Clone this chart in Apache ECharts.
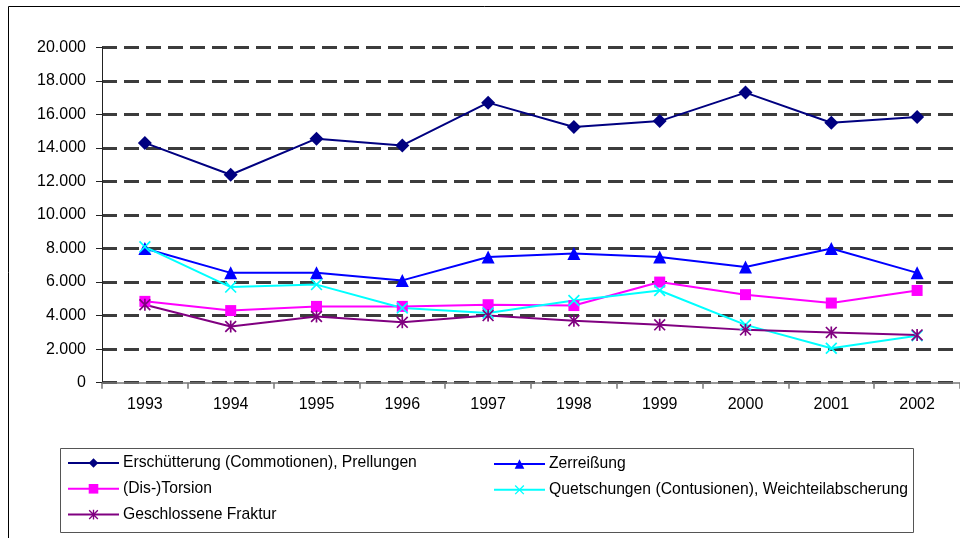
<!DOCTYPE html>
<html>
<head>
<meta charset="utf-8">
<script src="https://cdn.jsdelivr.net/npm/echarts@6/dist/echarts.min.js"></script>
<style>html,body{margin:0;padding:0;background:#fff}#c{width:960px;height:538px}</style>
</head>
<body>
<div id="c"></div>
<script>
const years = ['1993','1994','1995','1996','1997','1998','1999','2000','2001','2002'];
const erschuetterung = [14300, 12400, 14550, 14150, 16700, 15250, 15600, 17300, 15500, 15850];
const zerreissung = [8000, 6550, 6550, 6100, 7500, 7700, 7500, 6900, 8000, 6550];
const torsion = [4850, 4300, 4550, 4550, 4650, 4600, 6000, 5250, 4750, 5500];
const quetschungen = [8100, 5700, 5850, 4450, 4150, 4900, 5500, 3450, 2050, 2800];
const fraktur = [4650, 3350, 3950, 3600, 4000, 3700, 3450, 3150, 3000, 2850];
const yTicks = [0, 2000, 4000, 6000, 8000, 10000, 12000, 14000, 16000, 18000, 20000];

const names = [
  'Erschütterung (Commotionen), Prellungen',
  'Zerreißung',
  '(Dis-)Torsion',
  'Quetschungen (Contusionen), Weichteilabscherung',
  'Geschlossene Fraktur'
];

const X_PATH = 'path://M0,1L1,0L10,9L9,10ZM9,0L10,1L1,10L0,9Z';
const STAR_PATH = 'path://M0,1L1,0L10,9L9,10ZM9,0L10,1L1,10L0,9ZM4.3,0L5.7,0L5.7,10L4.3,10Z';

const font = 'Liberation Sans';

function mk(name, data, color, symbol, size) {
  return {
    name: name,
    type: 'line',
    data: data,
    symbol: symbol,
    symbolSize: size,
    showAllSymbol: true,
    color: color,
    lineStyle: { color: color, width: 2 },
    itemStyle: { color: color },
    emphasis: { disabled: true },
    animation: false
  };
}

const chart = echarts.init(document.getElementById('c'));
chart.setOption({
  backgroundColor: '#fff',
  animation: false,
  grid: { left: 102, top: 47.3, width: 869, height: 335.4, containLabel: false },
  xAxis: {
    type: 'category',
    data: years,
    boundaryGap: true,
    axisLine: { lineStyle: { color: '#777', width: 1.5 } },
    axisTick: { show: true, length: 6, lineStyle: { color: '#777', width: 1.5 } },
    axisLabel: { color: '#000', fontFamily: font, fontSize: 16, margin: 14 },
    splitLine: { show: false }
  },
  yAxis: {
    type: 'value',
    min: yTicks[0],
    max: yTicks[yTicks.length - 1],
    interval: 2000,
    axisLine: { show: true, lineStyle: { color: '#222', width: 1 } },
    axisTick: { show: true, length: 6, lineStyle: { color: '#222', width: 1 } },
    axisLabel: {
      color: '#000', fontFamily: font, fontSize: 16, margin: 16,
      formatter: function (v) { return v === 0 ? '0' : (v / 1000).toFixed(3); }
    },
    splitLine: { show: true, lineStyle: { color: '#3c3c3c', width: 3, type: [15, 7] } }
  },
  legend: [
    {
      data: [names[0], names[2], names[4]],
      orient: 'vertical',
      left: 67, top: 455,
      itemWidth: 51, itemHeight: 12, itemGap: 9.8,
      textStyle: { fontFamily: font, fontSize: 15.7, color: '#000', padding: [0, 0, 0, -1] },
      padding: 0,
      selectedMode: false
    },
    {
      data: [names[1], names[3]],
      orient: 'vertical',
      left: 493, top: 456,
      itemWidth: 51, itemHeight: 12, itemGap: 9.8,
      textStyle: { fontFamily: font, fontSize: 15.7, color: '#000', padding: [0, 0, 0, -1] },
      padding: 0,
      selectedMode: false
    }
  ],
  graphic: [
    { type: 'rect', shape: { x: 8.5, y: 6.5, width: 1200, height: 800 }, style: { fill: 'none', stroke: '#000', lineWidth: 1 }, silent: true, z: -1 },
    { type: 'rect', shape: { x: 60.5, y: 448.5, width: 853, height: 84 }, style: { fill: 'none', stroke: '#555', lineWidth: 1 }, silent: true }
  ],
  series: [
    mk(names[0], erschuetterung, '#000080', 'diamond', 14),
    mk(names[1], zerreissung, '#0000FF', 'triangle', 13),
    mk(names[2], torsion, '#FF00FF', 'rect', 11),
    mk(names[3], quetschungen, '#00FFFF', X_PATH, 12),
    mk(names[4], fraktur, '#800080', STAR_PATH, 12)
  ]
});
</script>
</body>
</html>
